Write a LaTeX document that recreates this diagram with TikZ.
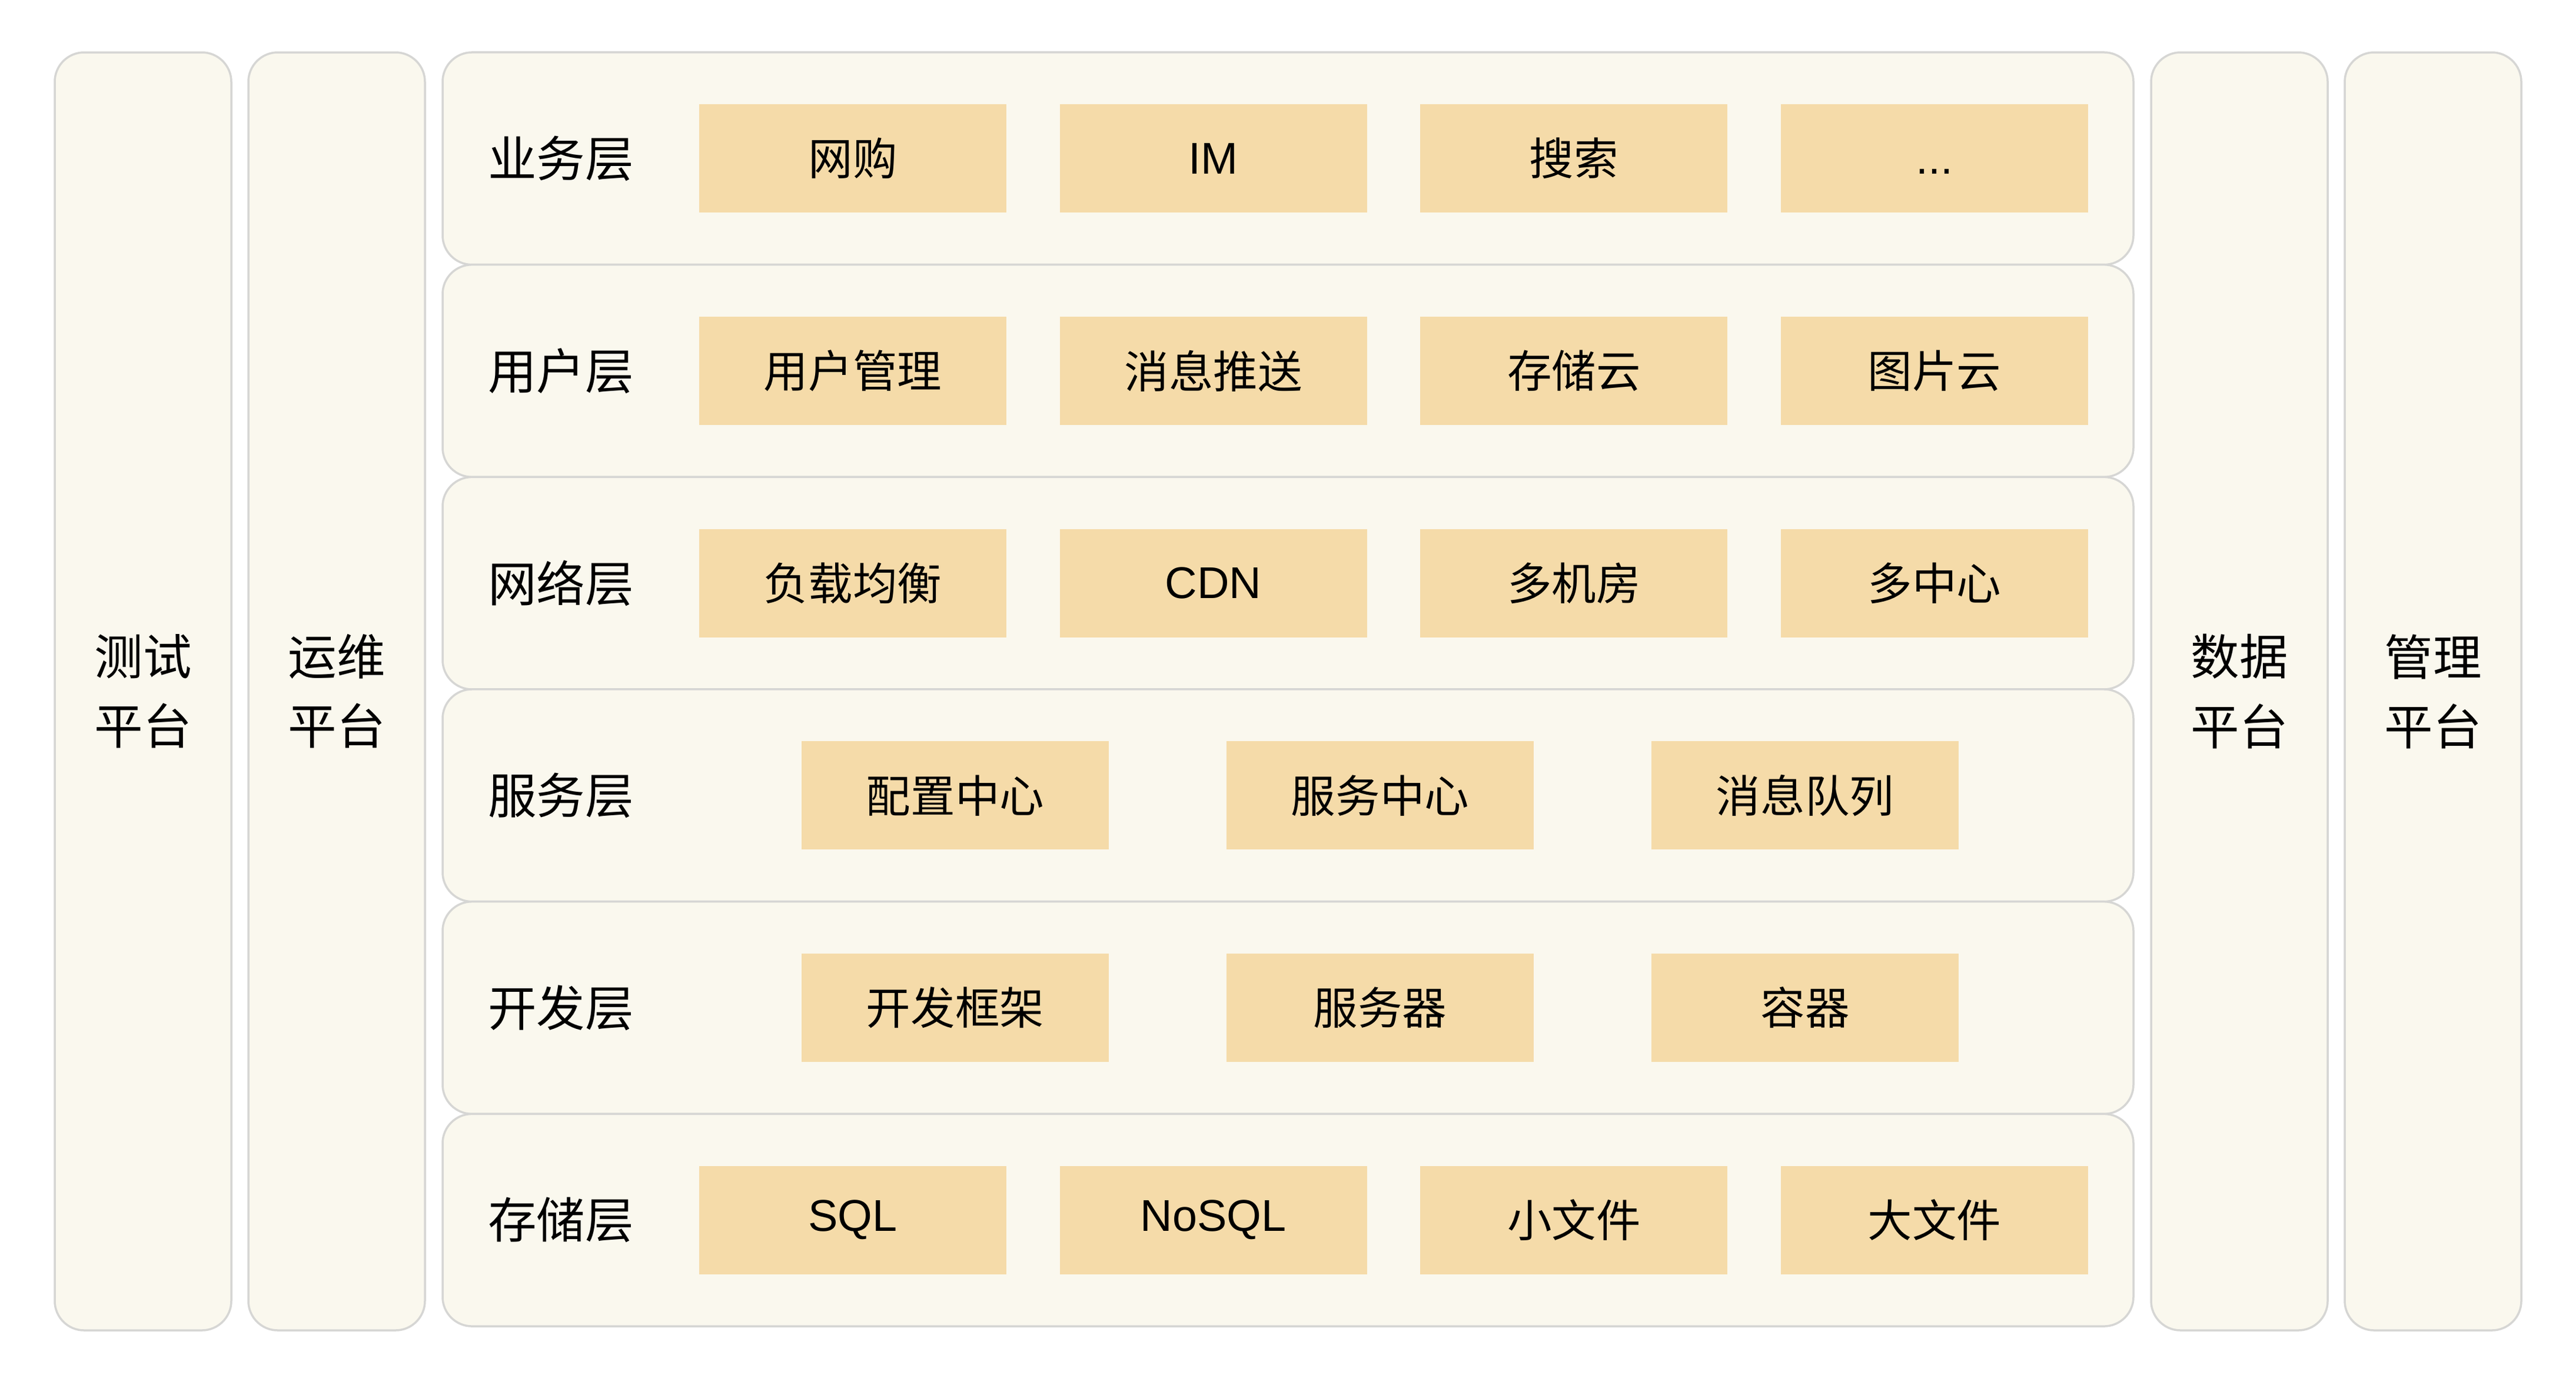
\documentclass[tikz,border=0pt]{standalone}
\usepackage{fontspec}
\setmainfont{Noto Sans CJK SC}
\newfontfamily\latinfont{Liberation Sans}
\usetikzlibrary{positioning}
\definecolor{linegray}{HTML}{D6D6D4}
\definecolor{layerbg}{HTML}{FAF8EE}
\definecolor{itembg}{HTML}{F5DBA9}
\tikzset{layer/.style={draw=linegray, fill=layerbg, line width=0.035cm, rounded corners=0.5cm, minimum width=28.73cm, minimum height=3.607cm, inner sep=0pt}}
\tikzset{side/.style={layer, minimum width=3cm, minimum height=21.71cm, align=center, font=\fontsize{23.5}{33.6}\selectfont}}
\tikzset{title/.style={inner sep=0pt, font=\fontsize{23.5}{28}\selectfont}}
\tikzset{item/.style={fill=itembg, minimum width=5.22cm, minimum height=1.84cm, inner sep=0pt, font=\fontsize{21.5}{26}\selectfont}}
\tikzset{latin/.style={item, font=\fontsize{21.5}{26}\selectfont\latinfont}}

\begin{document}
\begin{tikzpicture}
        \useasboundingbox[fill=white] (0,0) rectangle (43.77,-23.40);

        % side platforms
        \node[side] (test) at (2.43, -11.745) {测试\\平台};
        \node[side] (ops) at (5.72, -11.745) {运维\\平台};
        \node[side] (data) at (38.05, -11.745) {数据\\平台};
        \node[side] (mgmt) at (41.34, -11.745) {管理\\平台};

        % layers
        \node[layer] (L1) at (21.885, -2.693) {};
        \node[layer] (L2) at (21.885, -6.300) {};
        \node[layer] (L3) at (21.885, -9.907) {};
        \node[layer] (L4) at (21.885, -13.513) {};
        \node[layer] (L5) at (21.885, -17.120) {};
        \node[layer] (L6) at (21.885, -20.727) {};

        \begin{scope}[on grid]

        \node[title] (t1) at (9.53, -2.693) {业务层};
        \node[item, right = 4.96 of t1] (a1) {网购};
        \node[latin, right = 6.127 of a1] (a2) {IM};
        \node[item, right = 6.127 of a2] (a3) {搜索};
        \node[latin, right = 6.127 of a3] (a4) {\vphantom{M}...};

        \node[title] (t2) at (9.53, -6.300) {用户层};
        \node[item, right = 4.96 of t2] (b1) {用户管理};
        \node[item, right = 6.127 of b1] (b2) {消息推送};
        \node[item, right = 6.127 of b2] (b3) {存储云};
        \node[item, right = 6.127 of b3] (b4) {图片云};

        \node[title] (t3) at (9.53, -9.907) {网络层};
        \node[item, right = 4.96 of t3] (c1) {负载均衡};
        \node[latin, right = 6.127 of c1] (c2) {CDN};
        \node[item, right = 6.127 of c2] (c3) {多机房};
        \node[item, right = 6.127 of c3] (c4) {多中心};

        \node[title] (t4) at (9.53, -13.513) {服务层};
        \node[item, right = 6.70 of t4] (d1) {配置中心};
        \node[item, right = 7.22 of d1] (d2) {服务中心};
        \node[item, right = 7.22 of d2] (d3) {消息队列};

        \node[title] (t5) at (9.53, -17.120) {开发层};
        \node[item, right = 6.70 of t5] (e1) {开发框架};
        \node[item, right = 7.22 of e1] (e2) {服务器};
        \node[item, right = 7.22 of e2] (e3) {容器};

        \node[title] (t6) at (9.53, -20.727) {存储层};
        \node[latin, right = 4.96 of t6] (f1) {SQL};
        \node[latin, right = 6.127 of f1] (f2) {NoSQL};
        \node[item, right = 6.127 of f2] (f3) {小文件};
        \node[item, right = 6.127 of f3] (f4) {大文件};

        \end{scope}
\end{tikzpicture}
\end{document}
